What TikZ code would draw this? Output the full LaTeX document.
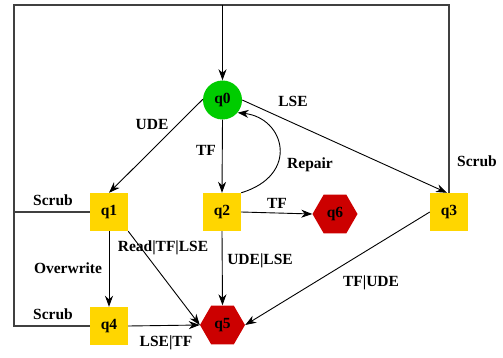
\documentclass[tikz,border=0pt]{standalone}
\usepackage{fontspec}
\setmainfont{Liberation Serif}
\usetikzlibrary{arrows.meta,shapes.geometric,calc}
\definecolor{okgreen}{RGB}{0,204,0}
\definecolor{warnyellow}{RGB}{255,214,0}
\definecolor{failred}{RGB}{204,0,0}
\begin{document}
\begin{tikzpicture}[x=1pt,y=-1pt,
  every node/.style={font=\fontsize{15.5}{18}\selectfont\bfseries},
  start/.style={circle,fill=okgreen,minimum size=39pt,inner sep=0},
  midstate/.style={rectangle,fill=warnyellow,minimum size=38pt,inner sep=0},
  failstate/.style={regular polygon,regular polygon sides=6,fill=failred,minimum size=45pt,inner sep=0},
  edge/.style={-{Stealth[length=11pt,width=8pt,inset=3.5pt]},line width=0.9pt},
  frame/.style={line width=1.1pt,draw=black!75},
  lbl/.style={inner sep=0}]
\useasboundingbox (0,0) rectangle (503,358);

% states
\node[start] (q0) at (222.5,100) {q0};
\node[midstate] (q1) at (109,212) {q1};
\node[midstate] (q2) at (222,212) {q2};
\node[midstate] (q3) at (449,212) {q3};
\node[midstate] (q4) at (109,326) {q4};
\node[failstate] (q5) at (222.5,325) {q5};
\node[failstate] (q6) at (335,214) {q6};

% scrub loop back to q0 around the outside
\coordinate (tl) at (14,5);
\coordinate (tr) at (449,5);
\coordinate (ml) at (14,212);
\coordinate (bl) at (14,326);
\coordinate (tin) at (222.5,5);
\draw[frame] (q1.west) -- (ml);
\draw[frame] (q4.west) -- (bl) -- (tl) -- (tr) -- (q3.north);
\draw[edge] (tin) -- (q0.north);

% transitions
\draw[edge] (q0.178) -- (q1.north);
\draw[edge] (q0.south) -- (q2.north);
\draw[edge] (q0.east) -- ($(q3.north)+(-2,0)$);
\draw[edge] (q2.north east) .. controls (300,175) and (285,118) .. (q0.-40);
\draw[edge] (q2.east) -- (q6.west);
\draw[edge] (q2.south) -- (q5.north);
\draw[edge] (q1.south) -- (q4.north);
\draw[edge] (q1.south east) -- (q5.west);
\draw[edge] (q4.east) -- (q5.west);
\draw[edge] (q3.west) -- (q5.east);

% labels
\node[lbl] (lScrubA) at (53,200) {Scrub};
\node[lbl] (lScrubB) at (53,314) {Scrub};
\node[lbl] (lScrubC) at (477,161) {Scrub};
\node[lbl] (lLSE) at (293,101) {LSE};
\node[lbl] (lUDE) at (152,124) {UDE};
\node[lbl] (lTFa) at (206,150) {TF};
\node[lbl] (lRepair) at (310,165) {Repair};
\node[lbl] (lTFb) at (277,203) {TF};
\node[lbl] (lRead) at (163,248) {Read|TF|LSE};
\node[lbl] (lOver) at (68,268) {Overwrite};
\node[lbl] (lUdeLse) at (260,261) {UDE|LSE};
\node[lbl] (lTfUde) at (371,283) {TF|UDE};
\node[lbl] (lLseTf) at (166,343) {LSE|TF};
\end{tikzpicture}
\end{document}
